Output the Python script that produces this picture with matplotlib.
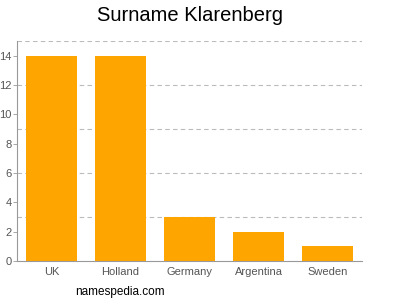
import matplotlib
matplotlib.use('Agg')
import matplotlib.pyplot as plt
import numpy as np

plt.rcParams['font.family'] = ['Liberation Sans', 'DejaVu Sans']

countries = ['UK', 'Holland', 'Germany', 'Argentina', 'Sweden']
counts = [14, 14, 3, 2, 1]
yticks = [0, 2, 4, 6, 8, 10, 12, 14]
grid_vals = [3, 6, 9, 12, 15]

fig = plt.figure(figsize=(4, 3), dpi=100)
ax = fig.add_axes([0.0425, 0.13, 0.8625, 0.733])

x = np.arange(len(countries))
ax.bar(x, counts, width=0.725, color='#FFA500', zorder=2)

for g in grid_vals:
    ax.axhline(g, color='#bbbbbb', linestyle=(0, (4, 3)), linewidth=0.8, zorder=1)

ax.set_xlim(-0.5, len(countries) - 0.5)
ax.set_ylim(0, 15)
ax.set_yticks(yticks)
ax.set_xticks(x)
ax.set_xticklabels(countries)

for s in ['top', 'right']:
    ax.spines[s].set_visible(False)
for s in ['left', 'bottom']:
    ax.spines[s].set_color('#999999')
    ax.spines[s].set_linewidth(0.8)

ax.tick_params(axis='y', colors='#999999', labelcolor='#555555', labelsize=8, length=3, width=0.6, pad=1)
ax.tick_params(axis='x', length=0, labelcolor='#555555', labelsize=8, pad=4)

fig.text(0.474, 0.948, 'Surname Klarenberg', ha='center', va='center', fontsize=14.5)
fig.text(0.1875, 0.027, 'namespedia.com', ha='left', va='center', fontsize=8.5)

fig.savefig('out.png', dpi=100)
